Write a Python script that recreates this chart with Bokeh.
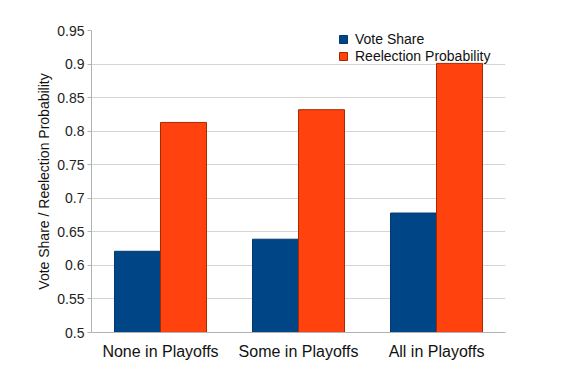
from bokeh.plotting import figure
from bokeh.models import ColumnDataSource, Legend, LegendItem, Range1d, FactorRange, FixedTicker
from bokeh.transform import dodge
from bokeh.embed import file_html
from bokeh.resources import INLINE

categories = ["None in Playoffs", "Some in Playoffs", "All in Playoffs"]
vote_share = [0.621, 0.639, 0.678]
reelection_prob = [0.813, 0.832, 0.901]
y_ticks = [0.5, 0.55, 0.6, 0.65, 0.7, 0.75, 0.8, 0.85, 0.9, 0.95]

src = ColumnDataSource(dict(cat=categories, vote=vote_share, reel=reelection_prob))

p = figure(x_range=FactorRange(*categories, range_padding=0), y_range=Range1d(0.5, 0.95),
           width=567, height=369, output_backend="svg", toolbar_location=None,
           min_border_left=91, min_border_right=62, min_border_top=30, min_border_bottom=37)
p.outline_line_color = None
p.background_fill_color = "white"

r1 = p.vbar(x=dodge("cat", -0.1667, range=p.x_range), top="vote", bottom=0.5, width=0.3333,
            source=src, fill_color="#004586", line_color="#003a70", line_width=1)
r2 = p.vbar(x=dodge("cat", 0.1667, range=p.x_range), top="reel", bottom=0.5, width=0.3333,
            source=src, fill_color="#ff420e", line_color="#a52a00", line_width=1)

p.yaxis.ticker = FixedTicker(ticks=y_ticks)
p.yaxis.major_label_overrides = {0.5: "0.5", 0.55: "0.55", 0.6: "0.6", 0.65: "0.65", 0.7: "0.7",
                                 0.75: "0.75", 0.8: "0.8", 0.85: "0.85", 0.9: "0.9", 0.95: "0.95"}
p.yaxis.axis_label = "Vote Share / Reelection Probability"
p.yaxis.axis_label_text_font = "Liberation Sans"
p.yaxis.axis_label_text_font_style = "normal"
p.yaxis.axis_label_text_font_size = "14px"
p.yaxis.axis_label_text_color = "#111111"
p.yaxis.axis_label_standoff = 2
p.yaxis.major_label_text_font = "Liberation Sans"
p.yaxis.major_label_text_font_size = "14px"
p.yaxis.major_label_text_color = "#222222"
p.yaxis.major_label_standoff = 3
p.yaxis.axis_line_color = "#b3b3b3"
p.yaxis.major_tick_line_color = "#b3b3b3"
p.yaxis.major_tick_out = 4
p.yaxis.major_tick_in = 0
p.yaxis.minor_tick_line_color = None

p.xaxis.major_label_text_font = "Liberation Sans"
p.xaxis.major_label_text_font_size = "16px"
p.xaxis.major_label_text_color = "#111111"
p.xaxis.major_label_standoff = 4
p.xaxis.axis_line_color = "#b3b3b3"
p.xaxis.major_tick_line_color = None
p.xaxis.minor_tick_line_color = None

p.xgrid.grid_line_color = None
p.ygrid.grid_line_color = "#d4d4d4"
p.ygrid.grid_line_width = 1

legend = Legend(items=[LegendItem(label="Vote Share", renderers=[r1]),
                       LegendItem(label="Reelection Probability", renderers=[r2])],
                location=(247, 268), orientation="vertical")
legend.background_fill_alpha = 0
legend.border_line_color = None
legend.padding = 0
legend.margin = 0
legend.spacing = 1
legend.glyph_width = 10
legend.glyph_height = 10
legend.label_height = 16
legend.label_standoff = 7
legend.label_text_font = "Liberation Sans"
legend.label_text_font_size = "14px"
legend.label_text_color = "#111111"
p.add_layout(legend)

open("out.html", "w").write(file_html(p, INLINE))
